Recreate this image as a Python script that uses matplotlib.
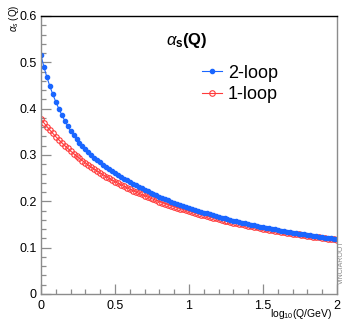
import numpy as np
import matplotlib
matplotlib.use("Agg")
import matplotlib.pyplot as plt
from matplotlib.ticker import MultipleLocator

plt.rcParams['font.family'] = ['Liberation Sans', 'DejaVu Sans']
plt.rcParams['mathtext.fontset'] = 'custom'
plt.rcParams['mathtext.rm'] = 'Liberation Sans'
plt.rcParams['mathtext.it'] = 'Liberation Sans:italic'
plt.rcParams['mathtext.bf'] = 'Liberation Sans:bold'

# log10(Q/GeV), step 0.02
log_q = np.linspace(0, 2, 101)

# alpha_s
alpha_2loop = [
    0.5149, 0.4897, 0.4677, 0.4482, 0.4307, 0.4148, 0.4002, 0.3867, 0.3743, 0.3627,
    0.3520, 0.3423, 0.3337, 0.3258, 0.3187, 0.3120, 0.3058, 0.2999, 0.2944, 0.2890,
    0.2839, 0.2790, 0.2743, 0.2697, 0.2653, 0.2610, 0.2568, 0.2528, 0.2489, 0.2451,
    0.2414, 0.2379, 0.2344, 0.2311, 0.2278, 0.2246, 0.2215, 0.2185, 0.2156, 0.2128,
    0.2100, 0.2073, 0.2047, 0.2021, 0.1996, 0.1972, 0.1948, 0.1925, 0.1902, 0.1880,
    0.1858, 0.1837, 0.1816, 0.1796, 0.1776, 0.1757, 0.1738, 0.1719, 0.1701, 0.1684,
    0.1666, 0.1649, 0.1633, 0.1616, 0.1600, 0.1585, 0.1569, 0.1554, 0.1540, 0.1525,
    0.1511, 0.1497, 0.1483, 0.1470, 0.1456, 0.1444, 0.1431, 0.1418, 0.1406, 0.1394,
    0.1382, 0.1370, 0.1359, 0.1348, 0.1336, 0.1326, 0.1315, 0.1304, 0.1294, 0.1284,
    0.1273, 0.1263, 0.1254, 0.1244, 0.1235, 0.1225, 0.1216, 0.1207, 0.1198, 0.1189,
    0.1181]
alpha_1loop = [
    0.3774, 0.3691, 0.3613, 0.3537, 0.3465, 0.3396, 0.3329, 0.3265, 0.3203, 0.3144,
    0.3086, 0.3031, 0.2978, 0.2927, 0.2877, 0.2829, 0.2782, 0.2737, 0.2694, 0.2652,
    0.2611, 0.2571, 0.2533, 0.2496, 0.2459, 0.2424, 0.2390, 0.2357, 0.2325, 0.2293,
    0.2262, 0.2233, 0.2204, 0.2175, 0.2148, 0.2121, 0.2095, 0.2069, 0.2044, 0.2020,
    0.1996, 0.1973, 0.1950, 0.1928, 0.1906, 0.1885, 0.1864, 0.1844, 0.1824, 0.1805,
    0.1786, 0.1767, 0.1749, 0.1731, 0.1714, 0.1696, 0.1680, 0.1663, 0.1647, 0.1631,
    0.1616, 0.1600, 0.1585, 0.1571, 0.1556, 0.1542, 0.1528, 0.1514, 0.1501, 0.1488,
    0.1475, 0.1462, 0.1450, 0.1437, 0.1425, 0.1413, 0.1402, 0.1390, 0.1379, 0.1368,
    0.1357, 0.1346, 0.1335, 0.1325, 0.1315, 0.1305, 0.1295, 0.1285, 0.1275, 0.1266,
    0.1256, 0.1247, 0.1238, 0.1229, 0.1220, 0.1211, 0.1203, 0.1194, 0.1186, 0.1178,
    0.1170]

x_ticks = [0, 0.5, 1, 1.5, 2]
x_ticklabels = ['0', '0.5', '1', '1.5', '2']
y_ticks = [0, 0.1, 0.2, 0.3, 0.4, 0.5, 0.6]
y_ticklabels = ['0', '0.1', '0.2', '0.3', '0.4', '0.5', '0.6']

blue = '#1a66ff'
red = '#ff3b3b'
gray = '#8c8c8c'

fig = plt.figure(figsize=(3.55, 3.28), dpi=100)
ax = fig.add_axes([0.1155, 0.1037, 0.8338, 0.8476])

l1, = ax.plot(log_q, alpha_1loop, color=red, lw=0.8, marker='o', ms=4.0,
              mfc='none', mec=red, mew=0.8, label='1-loop')
l2, = ax.plot(log_q, alpha_2loop, color=blue, lw=0.8, marker='o', ms=3.0,
              mfc=blue, mec=blue, label='2-loop')

ax.set_xlim(0, 2)
ax.set_ylim(0, 0.6)
ax.set_xticks(x_ticks)
ax.set_xticklabels(x_ticklabels)
ax.set_yticks(y_ticks)
ax.set_yticklabels(y_ticklabels)
ax.xaxis.set_minor_locator(MultipleLocator(0.1))
ax.yaxis.set_minor_locator(MultipleLocator(0.02))
ax.tick_params(which='both', direction='in', color=gray, width=0.9,
               labelsize=9, top=False, right=False)
ax.tick_params(which='major', length=7)
ax.tick_params(which='minor', length=3.5)
ax.tick_params(axis='x', pad=4)
ax.tick_params(axis='y', pad=3)

for side in ['left', 'bottom', 'right']:
    ax.spines[side].set_color(gray)
    ax.spines[side].set_linewidth(1.0)
ax.spines['top'].set_color('black')
ax.spines['top'].set_linewidth(1.0)

fig.text(0.527, 0.878, r'$\alpha_{\mathbf{s}}\mathbf{(Q)}$', fontsize=12,
         ha='center', va='center')

fig.legend(handles=[l2, l1], loc='upper left', bbox_to_anchor=(0.568, 0.803),
           frameon=False, fontsize=13, handlelength=1.15, handletextpad=0.3,
           labelspacing=0.25, borderpad=0, borderaxespad=0, numpoints=1)

fig.text(0.04, 0.985, r'$\alpha_{s}$ (Q)', fontsize=7, rotation=90,
         ha='center', va='top')
fig.text(0.937, 0.044, r'log$_{10}$(Q/GeV)', fontsize=7.5, ha='right', va='center')
fig.text(0.963, 0.201, 'VINCIAROOT', fontsize=5, rotation=90, color=gray,
         ha='center', va='center')

fig.savefig('out.png', dpi=100)
